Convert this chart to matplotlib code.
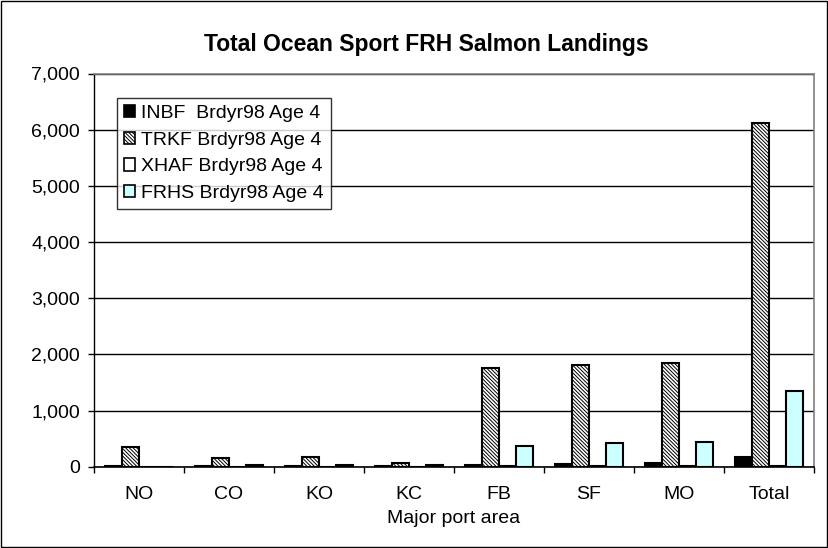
import matplotlib.pyplot as plt
import numpy as np
from matplotlib.patches import Rectangle

plt.rcParams['font.family'] = ['Liberation Sans', 'DejaVu Sans']
plt.rcParams['hatch.linewidth'] = 0.7
plt.rcParams['hatch.color'] = '#333333'

ports = ["NO", "CO", "KO", "KC", "FB", "SF", "MO", "Total"]
series_names = ["INBF  Brdyr98 Age 4", "TRKF Brdyr98 Age 4",
                "XHAF Brdyr98 Age 4", "FRHS Brdyr98 Age 4"]
inbf = [10, 15, 15, 20, 25, 50, 70, 180]
trkf = [355, 150, 175, 60, 1755, 1815, 1845, 6110]
xhaf = [0, 0, 0, 0, 5, 5, 5, 15]
frhs = [0, 35, 30, 30, 370, 430, 445, 1340]
yticks = [0, 1000, 2000, 3000, 4000, 5000, 6000, 7000]

fig = plt.figure(figsize=(8.29, 5.48), dpi=100)
fig.patches.append(Rectangle((0.001, 0.001), 0.997, 0.997, transform=fig.transFigure,
                             fill=False, edgecolor='black', linewidth=1))
# plot area in pixels: x 94..814, y 73.5..466.7
ax = fig.add_axes([94 / 829, (548 - 466.7) / 548, 720 / 829, 393.2 / 548])

x = np.arange(len(ports))
w = 0.19
offs = [-1.5 * w, -0.5 * w, 0.5 * w, 1.5 * w]
styles = [dict(color='black'),
          dict(color='white', hatch='\\' * 9),
          dict(color='white'),
          dict(color='#CCFFFF')]
for vals, off, st, name in zip([inbf, trkf, xhaf, frhs], offs, styles, series_names):
    ax.bar(x + off, vals, w, edgecolor='black', linewidth=1.5, label=name, zorder=3, **st)

ax.set_xlim(-0.5, len(ports) - 0.5)
ax.set_ylim(0, 7000)
ax.set_yticks(yticks)
ax.set_yticklabels([f"{v:,}" for v in yticks], fontsize=14)
ax.set_xticks(x)
ax.set_xticklabels(ports, fontsize=14)
ax.set_xticks(np.arange(len(ports) + 1) - 0.5, minor=True)
ax.tick_params(axis='x', which='major', length=0, pad=14)
ax.tick_params(axis='x', which='minor', length=4, direction='out', width=1)
ax.tick_params(axis='y', length=4, direction='out', width=1, pad=6)
ax.yaxis.grid(True, color='black', linewidth=1, zorder=0)
ax.set_axisbelow(True)
for s in ['top', 'right']:
    ax.spines[s].set_color('#808080')
    ax.spines[s].set_linewidth(1.2)
ax.spines['left'].set_linewidth(1)
ax.spines['bottom'].set_linewidth(1.2)

ax.set_xlabel("Major port area", fontsize=14, labelpad=5)
fig.text(426 / 829, 1 - 45 / 548, "Total Ocean Sport FRH Salmon Landings",
         ha='center', va='center', fontsize=16.5, fontweight='bold')

leg = ax.legend(loc='upper left', bbox_to_anchor=(23 / 720, 1 - 24.5 / 393.2),
                fontsize=14, frameon=True, fancybox=False, handlelength=0.6,
                handleheight=0.6, handletextpad=0.3, borderpad=0.35,
                labelspacing=0.5, borderaxespad=0)
leg.get_frame().set_edgecolor('black')
leg.get_frame().set_linewidth(1)
for h in leg.legend_handles:
    h.set_linewidth(1.2)

fig.savefig("out.png", dpi=100)
